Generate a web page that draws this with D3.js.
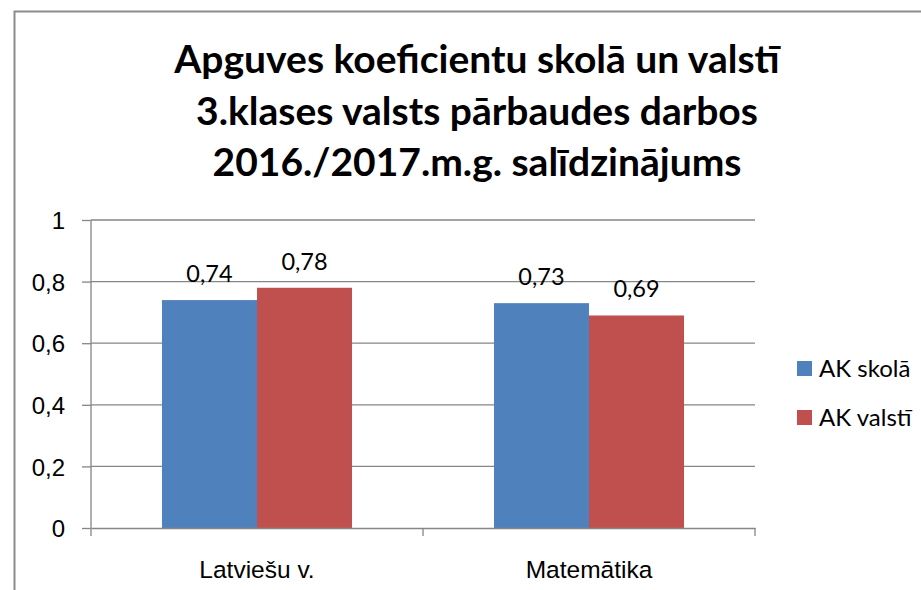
<!DOCTYPE html>
<html>
<head>
<meta charset="utf-8">
<title>Apguves koeficienti</title>
<style>
    body{ margin:0; background:#fff; }
    svg{ display:block; font-family: Lato, "Open Sans", sans-serif; }
    .tick text{ fill:#000; }
</style>
<script src="https://cdn.jsdelivr.net/npm/d3@7"></script>
</head>
<body>
<svg width="921" height="590"></svg>
<script>
// data
const categories = ["Latviešu v.", "Matemātika"];
const seriesNames = ["AK skolā", "AK valstī"];
const skolaValues = [0.74, 0.73];
const valstiValues = [0.78, 0.69];
const yTicks = [0, 0.2, 0.4, 0.6, 0.8, 1];
const titleLines = ["Apguves koeficientu skolā un valstī",
                    "3.klases valsts pārbaudes darbos",
                    "2016./2017.m.g. salīdzinājums"];
const colors = ["#4f81bd", "#c0504d"];

const rows = categories.map((c, i) => ({cat: c, vals: [skolaValues[i], valstiValues[i]]}));

const svg = d3.select("svg");
const fmt = v => String(v).replace(".", ",");

// outer chart border (only left + top visible)
svg.append("rect")
    .attr("x", 14.5).attr("y", 11.5)
    .attr("width", 940).attr("height", 600)
    .attr("fill", "none").attr("stroke", "#8c8c8c").attr("stroke-width", 2);

// title
svg.append("g").selectAll("text")
    .data(titleLines).enter().append("text")
    .attr("x", 477)
    .attr("y", (d, i) => 73 + i * 51.5)
    .attr("text-anchor", "middle")
    .style("font-weight", "bold")
    .style("font-size", "39px")
    .text(d => d);

const plotL = 91, plotR = 755, plotT = 220, plotB = 528;

const x0 = d3.scaleBand().domain(categories).range([plotL, plotR]).padding(0);
const x1 = d3.scaleBand().domain(seriesNames).range([0, x0.bandwidth()])
    .paddingInner(0).paddingOuter(0.747);
const y = d3.scaleLinear().domain([0, 1]).range([plotB, plotT]);

// gridlines
svg.append("g").selectAll("line")
    .data(yTicks.filter(d => d > 0)).enter().append("line")
    .attr("x1", plotL).attr("x2", plotR)
    .attr("y1", d => y(d)).attr("y2", d => y(d))
    .attr("stroke", "#868686").attr("stroke-width", 1.3);

// y axis
const yAxis = svg.append("g")
    .attr("transform", `translate(${plotL},0)`)
    .call(d3.axisLeft(y).tickValues(yTicks).tickFormat(fmt).tickSize(9).tickPadding(17));
yAxis.select(".domain").remove();
yAxis.append("line").attr("x1", 0).attr("x2", 0).attr("y1", plotT).attr("y2", plotB + 8)
    .attr("stroke", "#868686").attr("stroke-width", 1.3);
yAxis.selectAll(".tick line").attr("stroke", "#868686").attr("stroke-width", 1.3);
yAxis.selectAll(".tick text").style("font-size", "24px").attr("dy", "0.36em");

// bars
const groups = svg.append("g").selectAll("g")
    .data(rows).enter().append("g")
    .attr("transform", d => `translate(${x0(d.cat)},0)`);

groups.selectAll("rect")
    .data(d => d.vals.map((v, i) => ({s: seriesNames[i], v: v, i: i}))).enter()
    .append("rect")
    .attr("x", d => x1(d.s))
    .attr("width", x1.bandwidth())
    .attr("y", d => y(d.v))
    .attr("height", d => y(0) - y(d.v))
    .attr("fill", d => colors[d.i]);

groups.selectAll("text")
    .data(d => d.vals.map((v, i) => ({s: seriesNames[i], v: v}))).enter()
    .append("text")
    .attr("x", d => x1(d.s) + x1.bandwidth() / 2)
    .attr("y", d => y(d.v) - 18)
    .attr("text-anchor", "middle")
    .style("font-size", "23.5px")
    .text(d => fmt(d.v));

// x axis
const xAxis = svg.append("g")
    .attr("transform", `translate(0,${plotB})`)
    .call(d3.axisBottom(x0).tickSize(0).tickPadding(33));
xAxis.select(".domain").attr("stroke", "#868686").attr("stroke-width", 1.3);
xAxis.selectAll(".tick text").style("font-size", "24.5px");
// category separators
xAxis.append("g").selectAll("line")
    .data(categories.slice(1).concat(["end"])).enter().append("line")
    .attr("x1", d => d === "end" ? plotR : x0(d))
    .attr("x2", d => d === "end" ? plotR : x0(d))
    .attr("y1", 0).attr("y2", 8)
    .attr("stroke", "#868686").attr("stroke-width", 1.3);

// legend
const legend = svg.append("g").selectAll("g")
    .data(seriesNames).enter().append("g")
    .attr("transform", (d, i) => `translate(797,${361 + i * 49})`);
legend.append("rect").attr("width", 15).attr("height", 15)
    .attr("fill", (d, i) => colors[i]);
legend.append("text").attr("x", 22).attr("y", 16)
    .style("font-size", "24px").text(d => d);
</script>
</body>
</html>
